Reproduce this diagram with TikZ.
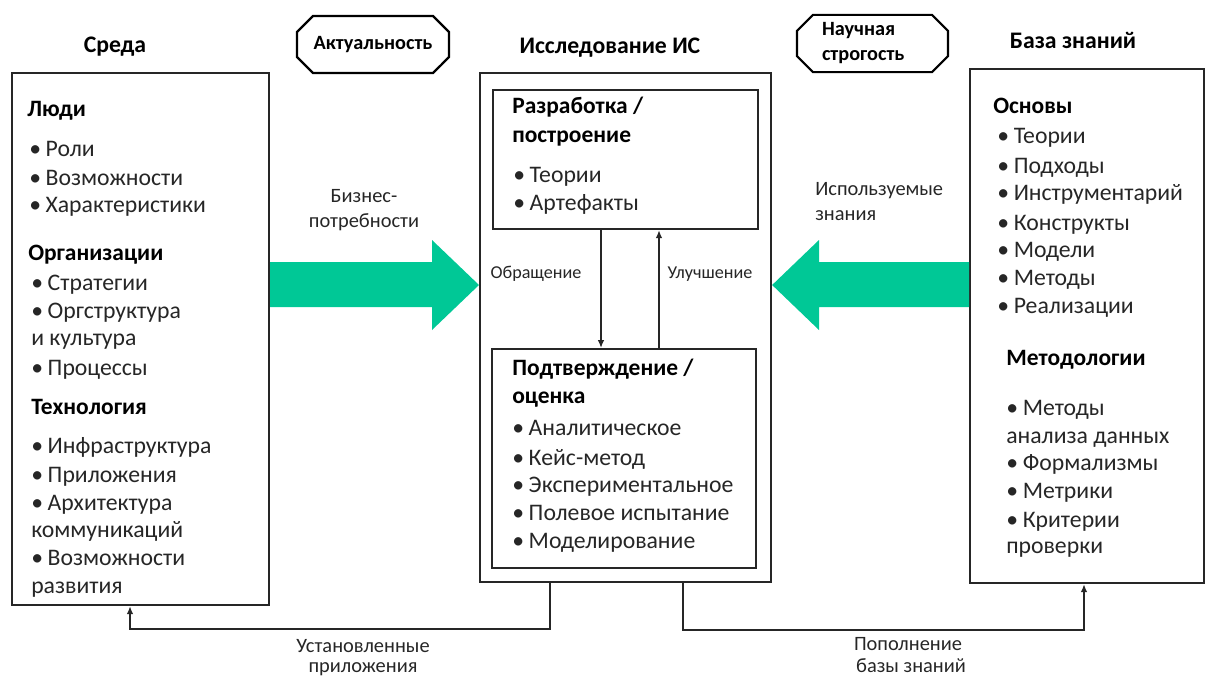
\documentclass[tikz,border=0pt]{standalone}
\usepackage{fontspec}
\setmainfont{Carlito}
\usetikzlibrary{arrows.meta, positioning, shapes.misc}
\definecolor{flowgreen}{RGB}{0,200,150}
\definecolor{ink}{RGB}{38,38,38}
\def\pxu{0.75pt}
\newcommand{\bul}{\textbullet\hspace{3.5pt}}

\begin{document}
\begin{tikzpicture}[x=\pxu, y=-\pxu, >={Latex[length=6pt,width=5pt]}]
    \tikzstyle{box}=[draw=black!85, line width=1.6pt, anchor=north west, inner sep=0pt]
    \tikzstyle{tag}=[chamfered rectangle, chamfered rectangle xsep=6pt, chamfered rectangle ysep=6pt, draw=black, line width=1.6pt, inner sep=0pt, font=\bfseries\fontsize{15.2}{18.75}\selectfont]
    \tikzstyle{title}=[anchor=base, inner sep=0pt, font=\bfseries\fontsize{17.8}{20}\selectfont]
    \tikzstyle{head}=[anchor=base west, inner sep=0pt, font=\bfseries\fontsize{17.6}{20}\selectfont]
    \tikzstyle{item}=[anchor=base west, inner sep=0pt, text=ink, font=\fontsize{17.8}{20}\selectfont]
    \tikzstyle{note}=[anchor=base, inner sep=0pt, text=ink, font=\fontsize{15.3}{18}\selectfont]
    \tikzstyle{link}=[draw=black!85, line width=1.7pt]

    \useasboundingbox (0,0) rectangle (1205,678);

    % Draw the three main boxes
    \node[box, minimum width=257*\pxu, minimum height=532*\pxu] (env) at (11,72) {};
    \node[box, minimum width=291*\pxu, minimum height=509*\pxu] (isr) at (479,72) {};
    \node[box, minimum width=234*\pxu, minimum height=514*\pxu] (kb) at (969,68) {};

    % Draw the two inner boxes of the research box
    \node[box, minimum width=265*\pxu, minimum height=139*\pxu] (build) at (492,89) {};
    \node[box, minimum width=264*\pxu, minimum height=219*\pxu] (eval) at (491,348) {};

    % Titles over the boxes
    \node[title] (env-t) at (115,52) {Среда};
    \node[title] (isr-t) at (610,53) {Исследование ИС};
    \node[title] (kb-t) at (1073,48) {База знаний};
    \node[tag, minimum width=152*\pxu, minimum height=57*\pxu] (rel) at (373,44.5) {Актуальность};
    \node[tag, minimum width=151*\pxu, minimum height=57*\pxu, text width=101*\pxu, align=left] (rig) at (872.5,43.5) {Научная\\строгость};

    % Environment: people, organisations, technology
    \node[head] (env-h1) at (27,116) {Люди};
    \foreach \t/\y [count=\i] in {Роли/156, Возможности/185, Характеристики/212}
        \node[item] (env-a\i) at (29,\y) {\bul\t};
    \node[head] (env-h2) at (28,260) {Организации};
    \foreach \t/\y [count=\i] in {\bul Стратегии/290, \bul Оргструктура/318, и культура/345, \bul Процессы/375}
        \node[item] (env-b\i) at (31,\y) {\t};
    \node[head] (env-h3) at (31,414) {Технология};
    \foreach \t/\y [count=\i] in {\bul Инфраструктура/453, \bul Приложения/482, \bul Архитектура/510, коммуникаций/537, \bul Возможности/565, развития/593}
        \node[item] (env-c\i) at (31,\y) {\t};

    % Research: build and evaluate
    \node[head] (build-h1) at (512,113) {Разработка /};
    \node[head] (build-h2) at (512,142) {построение};
    \foreach \t/\y [count=\i] in {Теории/182, Артефакты/210}
        \node[item] (build-\i) at (513,\y) {\bul\t};
    \node[head] (eval-h1) at (512,375) {Подтверждение /};
    \node[head] (eval-h2) at (512,403) {оценка};
    \foreach \t/\y [count=\i] in {Аналитическое/435, Кейс-метод/465, Экспериментальное/492, Полевое испытание/520, Моделирование/548}
        \node[item] (eval-\i) at (512,\y) {\bul\t};

    % Knowledge base: foundations and methodologies
    \node[head] (kb-h1) at (993,113) {Основы};
    \foreach \t/\y [count=\i] in {Теории/143, Подходы/173, Инструментарий/200, Конструкты/230, Модели/257, Методы/285, Реализации/313}
        \node[item] (kb-a\i) at (997,\y) {\bul\t};
    \node[head] (kb-h2) at (1006,365) {Методологии};
    \foreach \t/\y [count=\i] in {\bul Методы/415, анализа данных/443, \bul Формализмы/470, \bul Метрики/498, \bul Критерии/527, проверки/553}
        \node[item] (kb-b\i) at (1006,\y) {\t};

    % Green arrows into the research box
    \fill[flowgreen] (env.east |- 0,262) -- (432,262) -- (432,240) -- (isr.west |- 0,285)
        -- (432,330) -- (432,307) -- (env.east |- 0,307) -- cycle;
    \fill[flowgreen] (kb.west |- 0,262) -- (819,262) -- (819,240) -- (isr.east |- 0,285)
        -- (819,330) -- (819,307) -- (kb.west |- 0,307) -- cycle;
    \node[note] (need1) at (364,202) {Бизнес-};
    \node[note] (need2) at (364,227) {потребности};
    \node[note, anchor=base west] (know1) at (815,195) {Используемые};
    \node[note, anchor=base west] (know2) at (815,220) {знания};

    % Arrows between the inner boxes
    \draw[link, ->] (build.south -| 601,0) -- (eval.north -| 601,0);
    \draw[link, ->] (eval.north -| 659,0) -- (build.south -| 659,0);
    \node[note, font=\fontsize{13.6}{16}\selectfont] (assess) at (536,278) {Обращение};
    \node[note, font=\fontsize{13.6}{16}\selectfont] (refine) at (710,278) {Улучшение};

    % Feedback lines at the bottom
    \draw[link, ->] (isr.south -| 550,0) |- (130,629) -- (env.south -| 130,0);
    \draw[link, ->] (isr.south -| 683,0) |- (1084,630) -- (kb.south -| 1084,0);
    \node[note] (apps1) at (363,652) {Установленные};
    \node[note] (apps2) at (363,672) {приложения};
    \node[note] (add1) at (908,650) {Пополнение};
    \node[note] (add2) at (911,672) {базы знаний};
\end{tikzpicture}
\end{document}
